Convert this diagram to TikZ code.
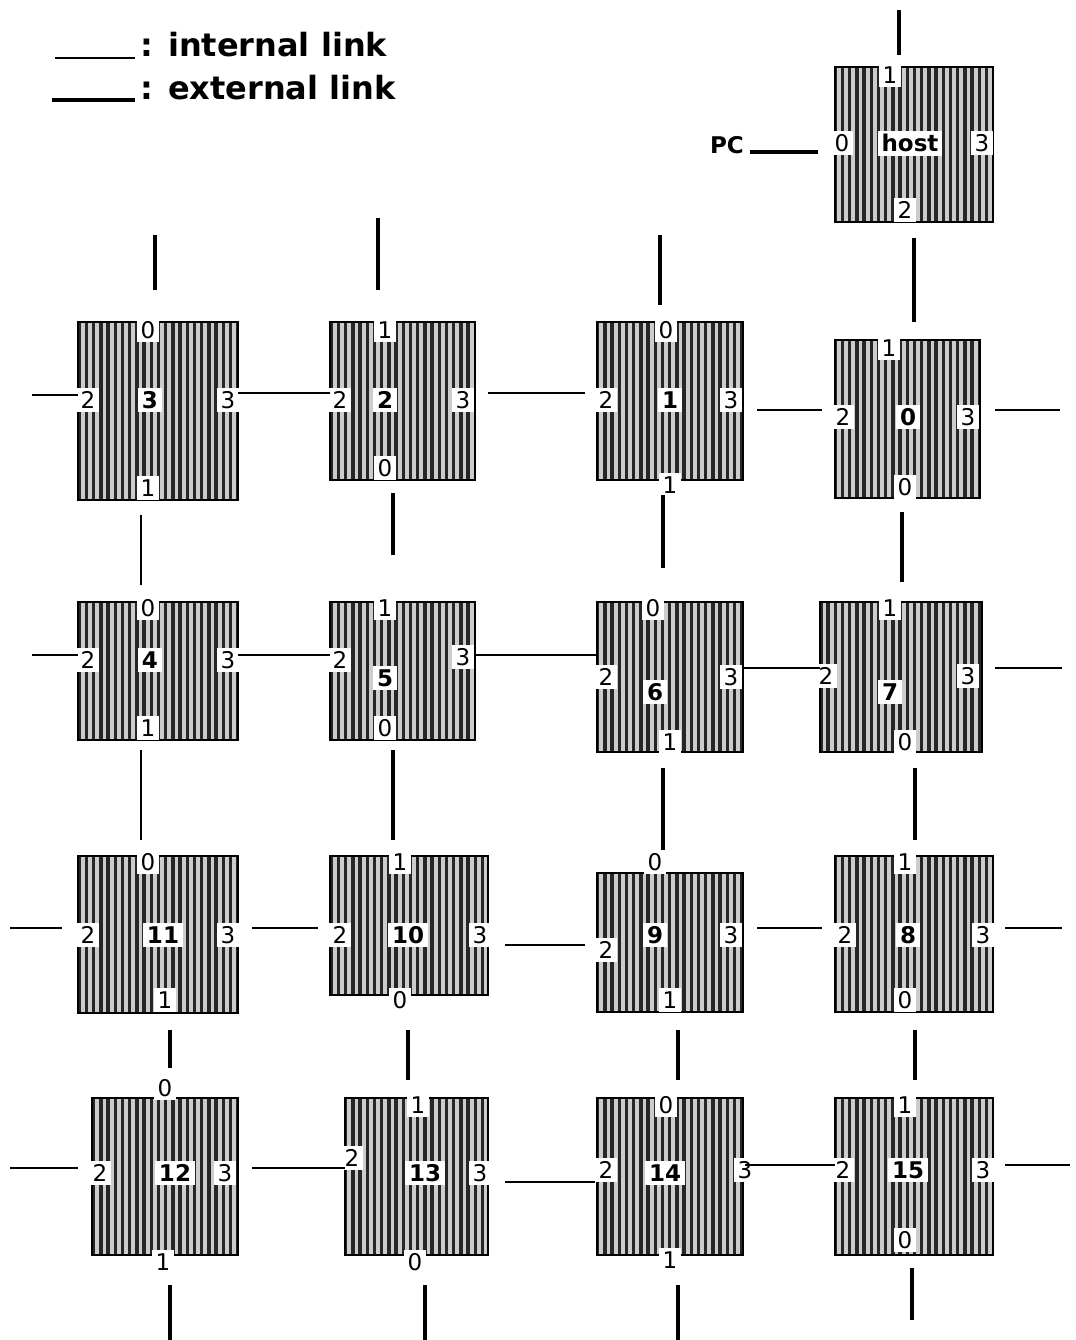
\documentclass[tikz,border=0pt]{standalone}
\usepackage{fontspec}
\setmainfont{DejaVu Sans}
\usetikzlibrary{patterns.meta}
\newcommand\seg[4]{\coordinate (#1a) at (#2); \coordinate (#1b) at (#3); \draw[#4] (#1a) -- (#1b);}
\begin{document}
\begin{tikzpicture}[x={(0.5pt,0)},y={(0,-0.5pt)},
  board/.style={preaction={fill=gray!40},pattern={Lines[angle=90,distance=3.6pt,line width=1.7pt]},pattern color=black!85,draw=black,line width=1pt},
  port/.style={fill=white,inner sep=1.6pt,font=\fontsize{11.5}{12}\selectfont},
  cen/.style={fill=white,inner sep=1.8pt,font=\fontsize{11.5}{12}\selectfont\bfseries},
  intl/.style={line width=0.8pt},
  extl/.style={line width=1.6pt},
  leg/.style={font=\fontsize{16}{17}\selectfont\bfseries,anchor=west,inner sep=0pt}]
\useasboundingbox[fill=white] (0,0) rectangle (1076,1340);
% legend
\seg{lgi}{55,58}{135,58}{intl}
\seg{lge}{52,100}{135,100}{extl}
\node[leg] (lgit) at (140,45) {: internal link};
\node[leg] (lget) at (140,88) {: external link};
% host
\path[board] (835,67) rectangle (993,222);
\node[port] (hT) at (890,75) {1};
\node[port] (hL) at (842,143) {0};
\node[cen] (hC) at (910,143) {host};
\node[port] (hR) at (982,143) {3};
\node[port] (hB) at (905,210) {2};
\node[font=\fontsize{11.5}{12}\selectfont\bfseries] (pc) at (727,145) {PC};
% generic board macro
\newcommand\B[9]{\path[board] (#2) rectangle (#3);
  \node[cen] (#1C) at (#5) {#4};
  \node[port] (#1T) at (#6) {#7};
  \node[port] (#1L) at (#8) {2};
  \node[port] (#1R) at (#9) {3};}
\B{b3}{78,322}{238,500}{3}{150,400}{148,330}{0}{88,400}{228,400}
\node[port] (b3B) at (148,488) {1};
\B{b2}{330,322}{475,480}{2}{385,400}{385,330}{1}{340,400}{463,400}
\node[port] (b2B) at (385,468) {0};
\B{b1}{597,322}{743,480}{1}{670,400}{666,330}{0}{606,400}{731,400}
\node[port] (b1B) at (670,485) {1};
\B{b0}{835,340}{980,498}{0}{908,417}{889,348}{1}{843,417}{968,417}
\node[port] (b0B) at (905,487) {0};
\B{b4}{78,602}{238,740}{4}{150,660}{148,608}{0}{88,660}{228,660}
\node[port] (b4B) at (148,728) {1};
\B{b5}{330,602}{475,740}{5}{385,678}{385,608}{1}{340,660}{463,657}
\node[port] (b5B) at (385,728) {0};
\B{b6}{597,602}{743,752}{6}{655,692}{653,608}{0}{606,677}{731,677}
\node[port] (b6B) at (670,742) {1};
\B{b7}{820,602}{982,752}{7}{890,692}{890,608}{1}{826,676}{968,676}
\node[port] (b7B) at (905,742) {0};
\B{b11}{78,856}{238,1013}{11}{163,935}{148,862}{0}{88,935}{228,935}
\node[port] (b11B) at (165,1000) {1};
\B{b10}{330,856}{488,995}{10}{408,935}{400,862}{1}{340,935}{480,935}
\node[port] (b10B) at (400,1000) {0};
\B{b9}{597,873}{743,1012}{9}{655,935}{655,862}{0}{606,950}{731,935}
\node[port] (b9B) at (670,1000) {1};
\B{b8}{835,856}{993,1012}{8}{908,935}{905,862}{1}{845,935}{983,935}
\node[port] (b8B) at (905,1000) {0};
\B{b12}{92,1098}{238,1255}{12}{175,1173}{165,1088}{0}{100,1173}{225,1173}
\node[port] (b12B) at (163,1262) {1};
\B{b13}{345,1098}{488,1255}{13}{425,1173}{418,1105}{1}{352,1158}{480,1173}
\node[port] (b13B) at (415,1262) {0};
\B{b14}{597,1098}{743,1255}{14}{665,1173}{666,1105}{0}{606,1170}{745,1170}
\node[port] (b14B) at (670,1260) {1};
\B{b15}{835,1098}{993,1255}{15}{908,1170}{905,1105}{1}{843,1170}{983,1170}
\node[port] (b15B) at (905,1240) {0};
% vertical links
\seg{v1}{899,10}{899,55}{extl}
\seg{v2}{914,238}{914,322}{extl}
\seg{v3}{155,235}{155,290}{extl}
\seg{v4}{378,218}{378,290}{extl}
\seg{v5}{660,235}{660,305}{extl}
\seg{v6}{141,515}{141,585}{intl}
\seg{v7}{393,493}{393,555}{extl}
\seg{v8}{663,495}{663,568}{extl}
\seg{v9}{902,512}{902,582}{extl}
\seg{v10}{141,750}{141,840}{intl}
\seg{v11}{393,750}{393,840}{extl}
\seg{v12}{663,768}{663,850}{extl}
\seg{v13}{915,768}{915,840}{extl}
\seg{v14}{170,1030}{170,1068}{extl}
\seg{v15}{408,1030}{408,1080}{extl}
\seg{v16}{678,1030}{678,1080}{extl}
\seg{v17}{915,1030}{915,1080}{extl}
\seg{v18}{170,1285}{170,1340}{extl}
\seg{v19}{425,1285}{425,1340}{extl}
\seg{v20}{678,1285}{678,1340}{extl}
\seg{v21}{912,1268}{912,1320}{extl}
% horizontal links
\seg{pcl}{750,152}{818,152}{extl}
\seg{h1}{32,395}{78,395}{intl}
\seg{h2}{238,393}{330,393}{intl}
\seg{h3}{488,393}{585,393}{intl}
\seg{h4}{757,410}{822,410}{intl}
\seg{h5}{995,410}{1060,410}{intl}
\seg{h6}{32,655}{78,655}{intl}
\seg{h7}{238,655}{330,655}{intl}
\seg{h8}{475,655}{597,655}{intl}
\seg{h9}{743,668}{820,668}{intl}
\seg{h10}{995,668}{1062,668}{intl}
\seg{h11}{10,928}{62,928}{intl}
\seg{h12}{252,928}{318,928}{intl}
\seg{h13}{505,945}{585,945}{intl}
\seg{h14}{757,928}{822,928}{intl}
\seg{h15}{1005,928}{1062,928}{intl}
\seg{h16}{10,1168}{78,1168}{intl}
\seg{h17}{252,1168}{345,1168}{intl}
\seg{h18}{505,1182}{595,1182}{intl}
\seg{h19}{745,1165}{835,1165}{intl}
\seg{h20}{1005,1165}{1070,1165}{intl}
\end{tikzpicture}
\end{document}
